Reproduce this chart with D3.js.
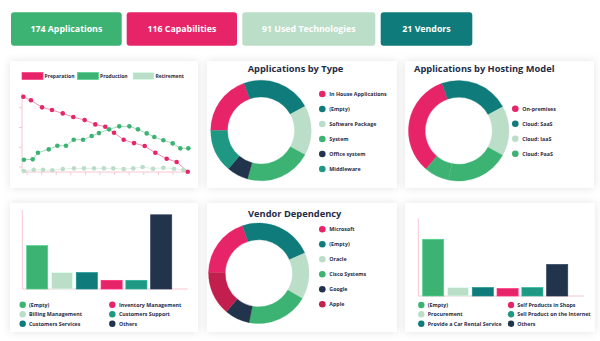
<!DOCTYPE html>
<html><head><meta charset="utf-8">
<script src="https://cdn.jsdelivr.net/npm/d3@7"></script>
<style>
body{margin:0;background:#fff;}
svg{display:block;font-family:"Open Sans",sans-serif;}
</style>
</head><body>
<svg id="c" width="600" height="341"></svg>
<script>
// ---------- DATA ----------
const statLabels = ["174 Applications", "116 Capabilities", "91 Used Technologies", "21 Vendors"];

const lifecycleSeries = ["Preparation", "Production", "Retirement"];
const xTicks = [1, 2, 3, 4, 5, 6, 7, 8, 9, 10, 11];
const yTicks = [20, 40, 60, 80];
const prepX = [0.75, 1.27, 2.03, 2.71, 3.45, 4.17, 4.95, 5.68, 6.36, 6.96, 7.62, 8.33, 9.06, 9.79, 10.57, 11.25, 12.01];
const prepY = [91.0, 87.4, 80.3, 77.6, 74.2, 70.5, 67.5, 63.1, 60.7, 54.6, 47.6, 44.2, 41.2, 34.4, 28.4, 25.1, 15.3];
const prodX = [0.79, 1.39, 1.75, 2.49, 3.08, 3.67, 4.20, 4.84, 5.43, 5.93, 6.62, 7.32, 8.01, 8.60, 9.20, 9.72, 10.34, 10.98, 11.50, 12.05];
const prodY = [27.4, 27.8, 34.4, 37.9, 41.5, 41.5, 47.6, 47.6, 51.3, 54.3, 58.1, 61.1, 61.1, 58.1, 54.0, 50.3, 47.0, 43.9, 38.9, 38.9];
const retX = [0.79, 1.46, 2.10, 2.73, 3.45, 4.22, 4.90, 5.59, 6.27, 6.91, 7.62, 8.28, 8.92, 9.63, 10.34, 11.07, 11.71];
const retY = [16.0, 17.3, 17.3, 16.7, 18.0, 18.7, 18.7, 18.7, 18.7, 18.7, 18.0, 18.7, 20.0, 18.3, 19.3, 18.3, 17.0];

const typeLabels = ["In House Applications", "(Empty)", "Software Package", "System", "Office system", "Middleware"];
const typeValues = [34, 39, 28, 37, 12, 24];

const hostingLabels = ["On-premises", "Cloud: SaaS", "Cloud: IaaS", "Cloud: PaaS"];
const hostingValues = [58, 39, 28, 35, 14];   // last slice shares the PaaS colour
const hostingColorIdx = [0, 1, 2, 3, 3];

const vendorLabels = ["Microsoft", "(Empty)", "Oracle", "Cisco Systems", "Google", "Apple"];
const vendorValues = [70, 85, 54, 71, 29, 51];

const leftBarLabels = ["(Empty)", "Billing Management", "Customers Services", "Inventory Management", "Customers Support", "Others"];
const leftBarValues = [45, 17, 17, 9, 9, 77];

const rightBarLabels = ["(Empty)", "Procurement", "Provide a Car Rental Service", "Self Products in Shops", "Sell Product on the Internet", "Others"];
const rightBarValues = [54, 8, 8, 7, 8, 30];

// ---------- STYLE ----------
const C = {green:"#3DB373", pink:"#E82468", light:"#BBDEC8", teal:"#0F7B7A", tgreen:"#1E9882", navy:"#22344B", crimson:"#C21F4E"};
const statColors = [C.green, C.pink, C.light, C.teal];
const lineColors = [C.pink, C.green, C.light];
const typeColors = [C.pink, C.teal, C.light, C.green, C.navy, C.tgreen];
const hostingColors = [C.pink, C.teal, C.light, C.green];
const vendorColors = [C.pink, C.teal, C.light, C.green, C.navy, C.crimson];
const barColors = [C.green, C.light, C.teal, C.pink, C.tgreen, C.navy];
const textColor = "#1F2D48";
const axisColor = "#F7C6D1";

const svg = d3.select("#c");
const defs = svg.append("defs");
const f = defs.append("filter").attr("id","sh").attr("x","-20%").attr("y","-20%").attr("width","140%").attr("height","140%");
f.append("feDropShadow").attr("dx",0).attr("dy",0).attr("stdDeviation",4).attr("flood-color","#000").attr("flood-opacity",0.11);

// cards
const cards = [[10,61,188,127],[207,61,190,127],[405,61,189,127],[10,203,188,129],[207,203,190,129],[405,203,190,129]];
svg.selectAll("rect.card").data(cards).join("rect").attr("class","card")
  .attr("x",d=>d[0]).attr("y",d=>d[1]).attr("width",d=>d[2]).attr("height",d=>d[3])
  .attr("fill","#fff").attr("filter","url(#sh)");

// stat buttons
const btn = [[11,12.3,110.7],[126.7,12.3,110.3],[242.3,12.3,133],[380.7,12.3,91.6]];
const bg = svg.selectAll("g.btn").data(statLabels).join("g").attr("class","btn");
bg.append("rect").attr("x",(d,i)=>btn[i][0]).attr("y",(d,i)=>btn[i][1]).attr("width",(d,i)=>btn[i][2]).attr("height",33.4)
  .attr("rx",3).attr("fill",(d,i)=>statColors[i]);
bg.append("text").attr("x",(d,i)=>btn[i][0]+btn[i][2]/2).attr("y",32.3).attr("text-anchor","middle")
  .attr("fill","#fff").attr("font-size",8.8).attr("font-weight",700).text(d=>d);

// ---------- LINE CHART ----------
const lx = d3.scaleLinear().domain([1,11]).range([27,173]);
const ly = d3.scaleLinear().domain([15,95]).range([172,92.8]);
const lg = svg.append("g");
lg.append("line").attr("x1",22).attr("x2",22).attr("y1",93).attr("y2",172).attr("stroke",axisColor);
lg.append("line").attr("x1",22).attr("x2",188).attr("y1",172).attr("y2",172).attr("stroke",axisColor);
lg.selectAll("line.yt").data(yTicks).join("line").attr("class","yt").attr("x1",19).attr("x2",22)
  .attr("y1",d=>ly(d)).attr("y2",d=>ly(d)).attr("stroke",axisColor);
lg.selectAll("line.xt").data(xTicks).join("line").attr("class","xt").attr("y1",172).attr("y2",175)
  .attr("x1",d=>lx(d)).attr("x2",d=>lx(d)).attr("stroke",axisColor);
const series = [[prepX,prepY],[prodX,prodY],[retX,retY]];
const line = d3.line().x(d=>lx(d[0])).y(d=>ly(d[1]));
series.forEach((s,i)=>{
  const pts = s[0].map((x,j)=>[x,s[1][j]]);
  lg.append("path").attr("d",line(pts)).attr("fill","none").attr("stroke",lineColors[i]).attr("stroke-opacity",0.5).attr("stroke-width",1);
});
series.forEach((s,i)=>{
  const pts = s[0].map((x,j)=>[x,s[1][j]]);
  lg.selectAll(null).data(pts).join("circle").attr("cx",d=>lx(d[0])).attr("cy",d=>ly(d[1])).attr("r",2.3).attr("fill",lineColors[i]);
});
const leg = lg.selectAll("g.lleg").data(lifecycleSeries).join("g").attr("transform",(d,i)=>`translate(${22+i*55.5},72.5)`);
leg.append("rect").attr("width",21).attr("height",7).attr("fill",(d,i)=>lineColors[i]).attr("stroke",(d,i)=>d3.color(lineColors[i]).brighter(0.4)).attr("stroke-width",0.6);
leg.append("text").attr("x",22.5).attr("y",5.6).attr("font-size",5).attr("font-weight",700).attr("fill",textColor).text(d=>d);

// ---------- DONUTS ----------
function donut(cx, cy, start, values, colorFor, title, tx, ty, anchor){
  const pie = d3.pie().sort(null).value(d=>d).startAngle(start).endAngle(start+2*Math.PI);
  const arc = d3.arc().innerRadius(33.5).outerRadius(50.3);
  const g = svg.append("g").attr("transform",`translate(${cx},${cy})`);
  g.selectAll("path").data(pie(values)).join("path").attr("d",arc).attr("fill",(d,i)=>colorFor(i))
    .attr("stroke",(d,i)=>colorFor(i)).attr("stroke-width",0.3);
  svg.append("text").attr("x",tx).attr("y",ty).attr("text-anchor",anchor).attr("font-size",9.3).attr("font-weight",700)
    .attr("fill",textColor).text(title);
}
function vlegend(x, y0, labels, colors){
  const g = svg.append("g");
  const it = g.selectAll("g").data(labels).join("g").attr("transform",(d,i)=>`translate(${x},${y0+i*15})`);
  it.append("circle").attr("r",3.3).attr("fill",(d,i)=>colors[i]);
  it.append("text").attr("x",7).attr("y",1.9).attr("font-size",5.3).attr("font-weight",700).attr("fill",textColor).text(d=>d);
}
const deg = Math.PI/180;
donut(261, 130.5, -90*deg, typeValues, i=>typeColors[i], "Applications by Type", 295.5, 72.3, "middle");
vlegend(322.3, 94, typeLabels, typeColors);
donut(458.7, 130.8, -139.4*deg, hostingValues, i=>hostingColors[hostingColorIdx[i]], "Applications by Hosting Model", 414, 72.3, "start");
vlegend(515.3, 108.7, hostingLabels, hostingColors);
donut(258.8, 273.3, -88.9*deg, vendorValues, i=>vendorColors[i], "Vendor Dependency", 294.7, 216.7, "middle");
vlegend(322.3, 229.3, vendorLabels, vendorColors);

// ---------- BAR CHARTS ----------
function bars(x0, x1, yTop, yBot, axisRight, domMax, labels, values, legX, legTX, legY){
  const x = d3.scaleBand().domain(labels).range([x0,x1]).paddingInner(0.15).paddingOuter(0.075);
  const y = d3.scaleLinear().domain([0,domMax]).range([yBot,yTop]);
  const g = svg.append("g");
  const axX = x0 - 2.5;
  g.append("line").attr("x1",axX).attr("x2",axX).attr("y1",yTop).attr("y2",yBot).attr("stroke",axisColor);
  g.append("line").attr("x1",axX).attr("x2",axisRight).attr("y1",yBot).attr("y2",yBot).attr("stroke",axisColor);
  g.selectAll("rect").data(values).join("rect").attr("x",(d,i)=>x(labels[i])).attr("width",x.bandwidth())
    .attr("y",d=>y(d)).attr("height",d=>yBot-y(d)).attr("fill",(d,i)=>barColors[i])
    .attr("stroke",(d,i)=>d3.color(barColors[i]).brighter(0.5)).attr("stroke-width",0.7);
  const lg = svg.append("g");
  const it = lg.selectAll("g").data(labels).join("g")
    .attr("transform",(d,i)=>`translate(${legX[Math.floor(i/3)]},${legY[i%3]})`);
  it.append("circle").attr("r",3.2).attr("fill",(d,i)=>barColors[i]);
  it.append("text").attr("x",(d,i)=>legTX[Math.floor(i/3)]-legX[Math.floor(i/3)]).attr("y",1.9)
    .attr("font-size",5.3).attr("font-weight",700).attr("fill",textColor).text(d=>d);
}
bars(24.8, 173.6, 210, 289, 187.7, 82, leftBarLabels, leftBarValues, [22.7,112.3], [29,119], [304.7,314.3,323.7]);
bars(420.8, 569.6, 218.3, 296, 584, 74, rightBarLabels, rightBarValues, [421.3,511], [427.7,517.3], [305,314.3,323.7]);
</script>
</body></html>
